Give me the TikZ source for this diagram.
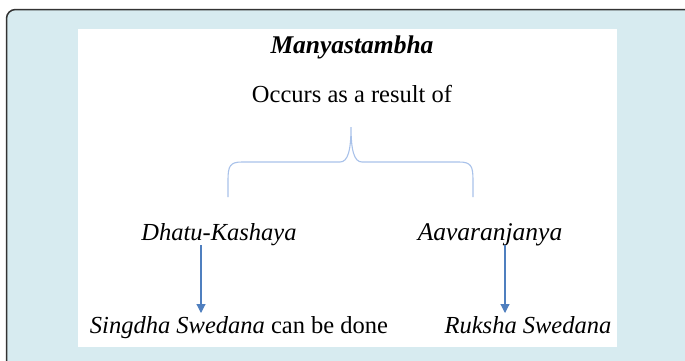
\documentclass[tikz,border=0pt]{standalone}
\usepackage{fontspec}
\setmainfont{Liberation Serif}
\usetikzlibrary{calc,arrows.meta}
\definecolor{bgblue}{HTML}{D7EBF0}
\definecolor{braceblue}{HTML}{A9C2EA}
\definecolor{arrowblue}{HTML}{4F7FBF}
\definecolor{framegray}{HTML}{333333}
\tikzset{
  txt/.style={anchor=base, inner sep=0pt, font=\fontsize{24.5}{28}\selectfont, text=black},
  itxt/.style={txt, font=\fontsize{24.5}{28}\selectfont\itshape},
  conn/.style={draw=arrowblue, line width=1.1pt, -{Triangle[width=9pt,length=9pt]}},
  bracestyle/.style={draw=braceblue, line width=1.1pt},
}
\begin{document}
\begin{tikzpicture}[x=1pt,y=-1pt]
\useasboundingbox (0,0) rectangle (685,360);
\clip (0,0) rectangle (685,360);
% outer frame
\fill[white] (0,0) rectangle (685,360);
\draw[framegray, fill=bgblue, line width=1.5pt, rounded corners=9pt] (6.5,9.5) rectangle (695,375);
% inner white panel
\fill[white] (78,29) rectangle (617,347);
% texts
\node[txt, font=\fontsize{25.5}{29}\selectfont\bfseries\itshape] (title) at (352,53) {Manyastambha};
\node[txt] (occ) at (352,102) {Occurs as a result of};
\node[itxt] (dk) at (219,240) {Dhatu-Kashaya};
\node[itxt, font=\fontsize{25.5}{29}\selectfont\itshape] (av) at (490,240) {Aavaranjanya};
\node[txt] (sd) at (239,333) {\textit{Singdha Swedana} can be done};
\node[itxt] (rs) at (528,333) {Ruksha Swedana};
% brace
\coordinate (btip) at (351,127);
\coordinate (bl) at (228,197);
\coordinate (br) at (473,197);
\draw[bracestyle] (bl) -- (228,180) .. controls (228,166) and (230,162) .. (242,162)
  -- (340,162) .. controls (348,162) and (351,150) .. (btip)
  .. controls (351,150) and (354,162) .. (362,162)
  -- (459,162) .. controls (471,162) and (473,166) .. (473,180) -- (br);
% arrows
\draw[conn] ($(dk.base)+(-18,5)$) -- ($(sd.base)+(-38,-20)$);
\draw[conn] ($(av.base)+(15,5)$) -- ($(rs.base)+(-23,-20)$);
\end{tikzpicture}
\end{document}
